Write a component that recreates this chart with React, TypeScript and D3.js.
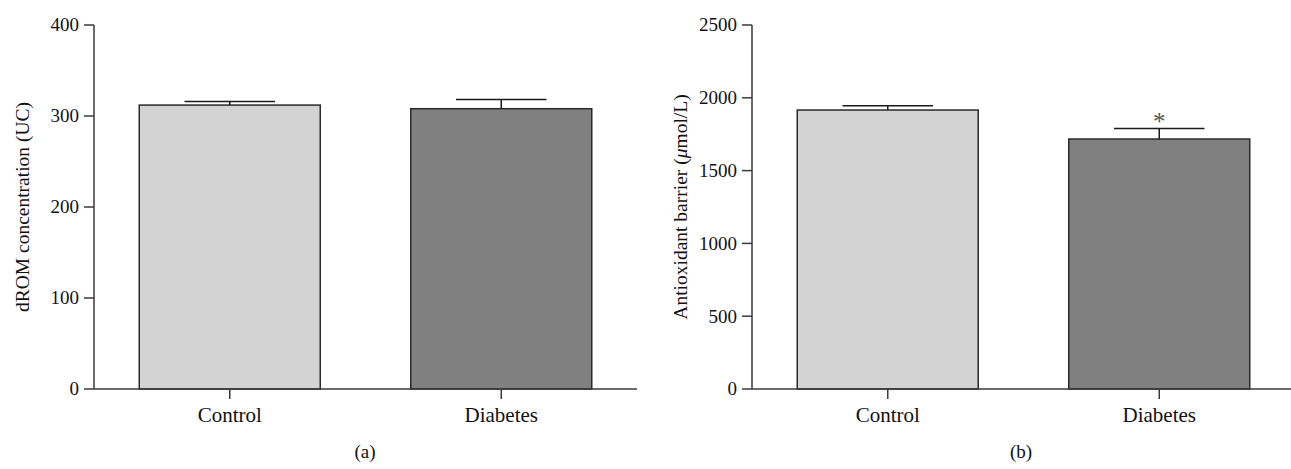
import React from "react";
import * as d3 from "d3";

const categories = ["Control", "Diabetes"];
const dromMeans = [312, 308];
const dromErrors = [4, 10];
const dromTicks = [0, 100, 200, 300, 400];
const barrierMeans = [1916, 1717];
const barrierErrors = [30, 73];
const barrierTicks = [0, 500, 1000, 1500, 2000, 2500];
const barrierMarks = ["", "*"];
const fills = ["#d3d3d3", "#808080"];

const W = 1291;
const H = 469;
const FONT = "'Liberation Serif', 'Times New Roman', serif";
const AXIS = "#3a3a3a";

type PanelProps = {
  x0: number;
  x1: number;
  yTop: number;
  yBottom: number;
  max: number;
  ticks: number[];
  means: number[];
  errors: number[];
  marks?: string[];
  label: React.ReactNode;
  labelX: number;
  caption: string;
  captionX: number;
};

function Panel(p: PanelProps) {
  const x = d3
    .scaleBand<string>()
    .domain(categories)
    .range([p.x0, p.x1])
    .paddingInner(1 / 3)
    .paddingOuter(1 / 6);
  const y = d3.scaleLinear().domain([0, p.max]).range([p.yBottom, p.yTop]);
  const bw = x.bandwidth();
  const midY = (p.yTop + p.yBottom) / 2;

  return (
    <g>
      {categories.map((c, i) => {
        const bx = x(c)!;
        const cx = bx + bw / 2;
        const top = y(p.means[i]);
        const errTop = y(p.means[i] + p.errors[i]);
        return (
          <g key={c}>
            <rect
              x={bx}
              y={top}
              width={bw}
              height={p.yBottom - top}
              fill={fills[i]}
              stroke="#2a2a2a"
              strokeWidth={1.5}
            />
            <line x1={cx} x2={cx} y1={top} y2={errTop} stroke="#1a1a1a" strokeWidth={1.5} />
            <line x1={cx - bw / 4} x2={cx + bw / 4} y1={errTop} y2={errTop} stroke="#1a1a1a" strokeWidth={1.5} />
            {p.marks && p.marks[i] ? (
              <text
                x={cx}
                y={errTop + 2}
                textAnchor="middle"
                fontFamily={FONT}
                fontSize={25}
                fill="#555"
              >
                {p.marks[i]}
              </text>
            ) : null}
            <line x1={cx} x2={cx} y1={p.yBottom} y2={p.yBottom + 10} stroke={AXIS} strokeWidth={1.5} />
            <text
              x={cx}
              y={p.yBottom + 33}
              textAnchor="middle"
              fontFamily={FONT}
              fontSize={21}
              fill="#111"
            >
              {c}
            </text>
          </g>
        );
      })}
      {/* y axis */}
      <line x1={p.x0} x2={p.x0} y1={p.yTop} y2={p.yBottom} stroke={AXIS} strokeWidth={1.5} />
      {/* x axis */}
      <line x1={p.x0} x2={Math.min(p.x1, W)} y1={p.yBottom} y2={p.yBottom} stroke={AXIS} strokeWidth={1.5} />
      {p.ticks.map((t) => (
        <g key={t}>
          <line x1={p.x0 - 10} x2={p.x0} y1={y(t)} y2={y(t)} stroke={AXIS} strokeWidth={1.5} />
          <text
            x={p.x0 - 15}
            y={y(t)}
            dy="0.34em"
            textAnchor="end"
            fontFamily={FONT}
            fontSize={19}
            fill="#111"
          >
            {t}
          </text>
        </g>
      ))}
      <text
        transform={`translate(${p.labelX},${midY}) rotate(-90)`}
        textAnchor="middle"
        dy="0.34em"
        fontFamily={FONT}
        fontSize={19.5}
        fill="#111"
      >
        {p.label}
      </text>
      <text
        x={p.captionX}
        y={458}
        textAnchor="middle"
        fontFamily={FONT}
        fontSize={19}
        fill="#111"
      >
        {p.caption}
      </text>
    </g>
  );
}

export default function App() {
  return (
    <svg
      width={W}
      height={H}
      style={{ position: "absolute", left: 0, top: 0, background: "#fff" }}
    >
      <rect width={W} height={H} fill="#fff" />
      <Panel
        x0={94}
        x1={637}
        yTop={25}
        yBottom={389}
        max={400}
        ticks={dromTicks}
        means={dromMeans}
        errors={dromErrors}
        label="dROM concentration (UC)"
        labelX={22}
        caption="(a)"
        captionX={365}
      />
      <Panel
        x0={752}
        x1={1295}
        yTop={25}
        yBottom={389}
        max={2500}
        ticks={barrierTicks}
        means={barrierMeans}
        errors={barrierErrors}
        marks={barrierMarks}
        label={
          <>
            Antioxidant barrier (<tspan fontStyle="italic">μ</tspan>mol/L)
          </>
        }
        labelX={680}
        caption="(b)"
        captionX={1021}
      />
    </svg>
  );
}
